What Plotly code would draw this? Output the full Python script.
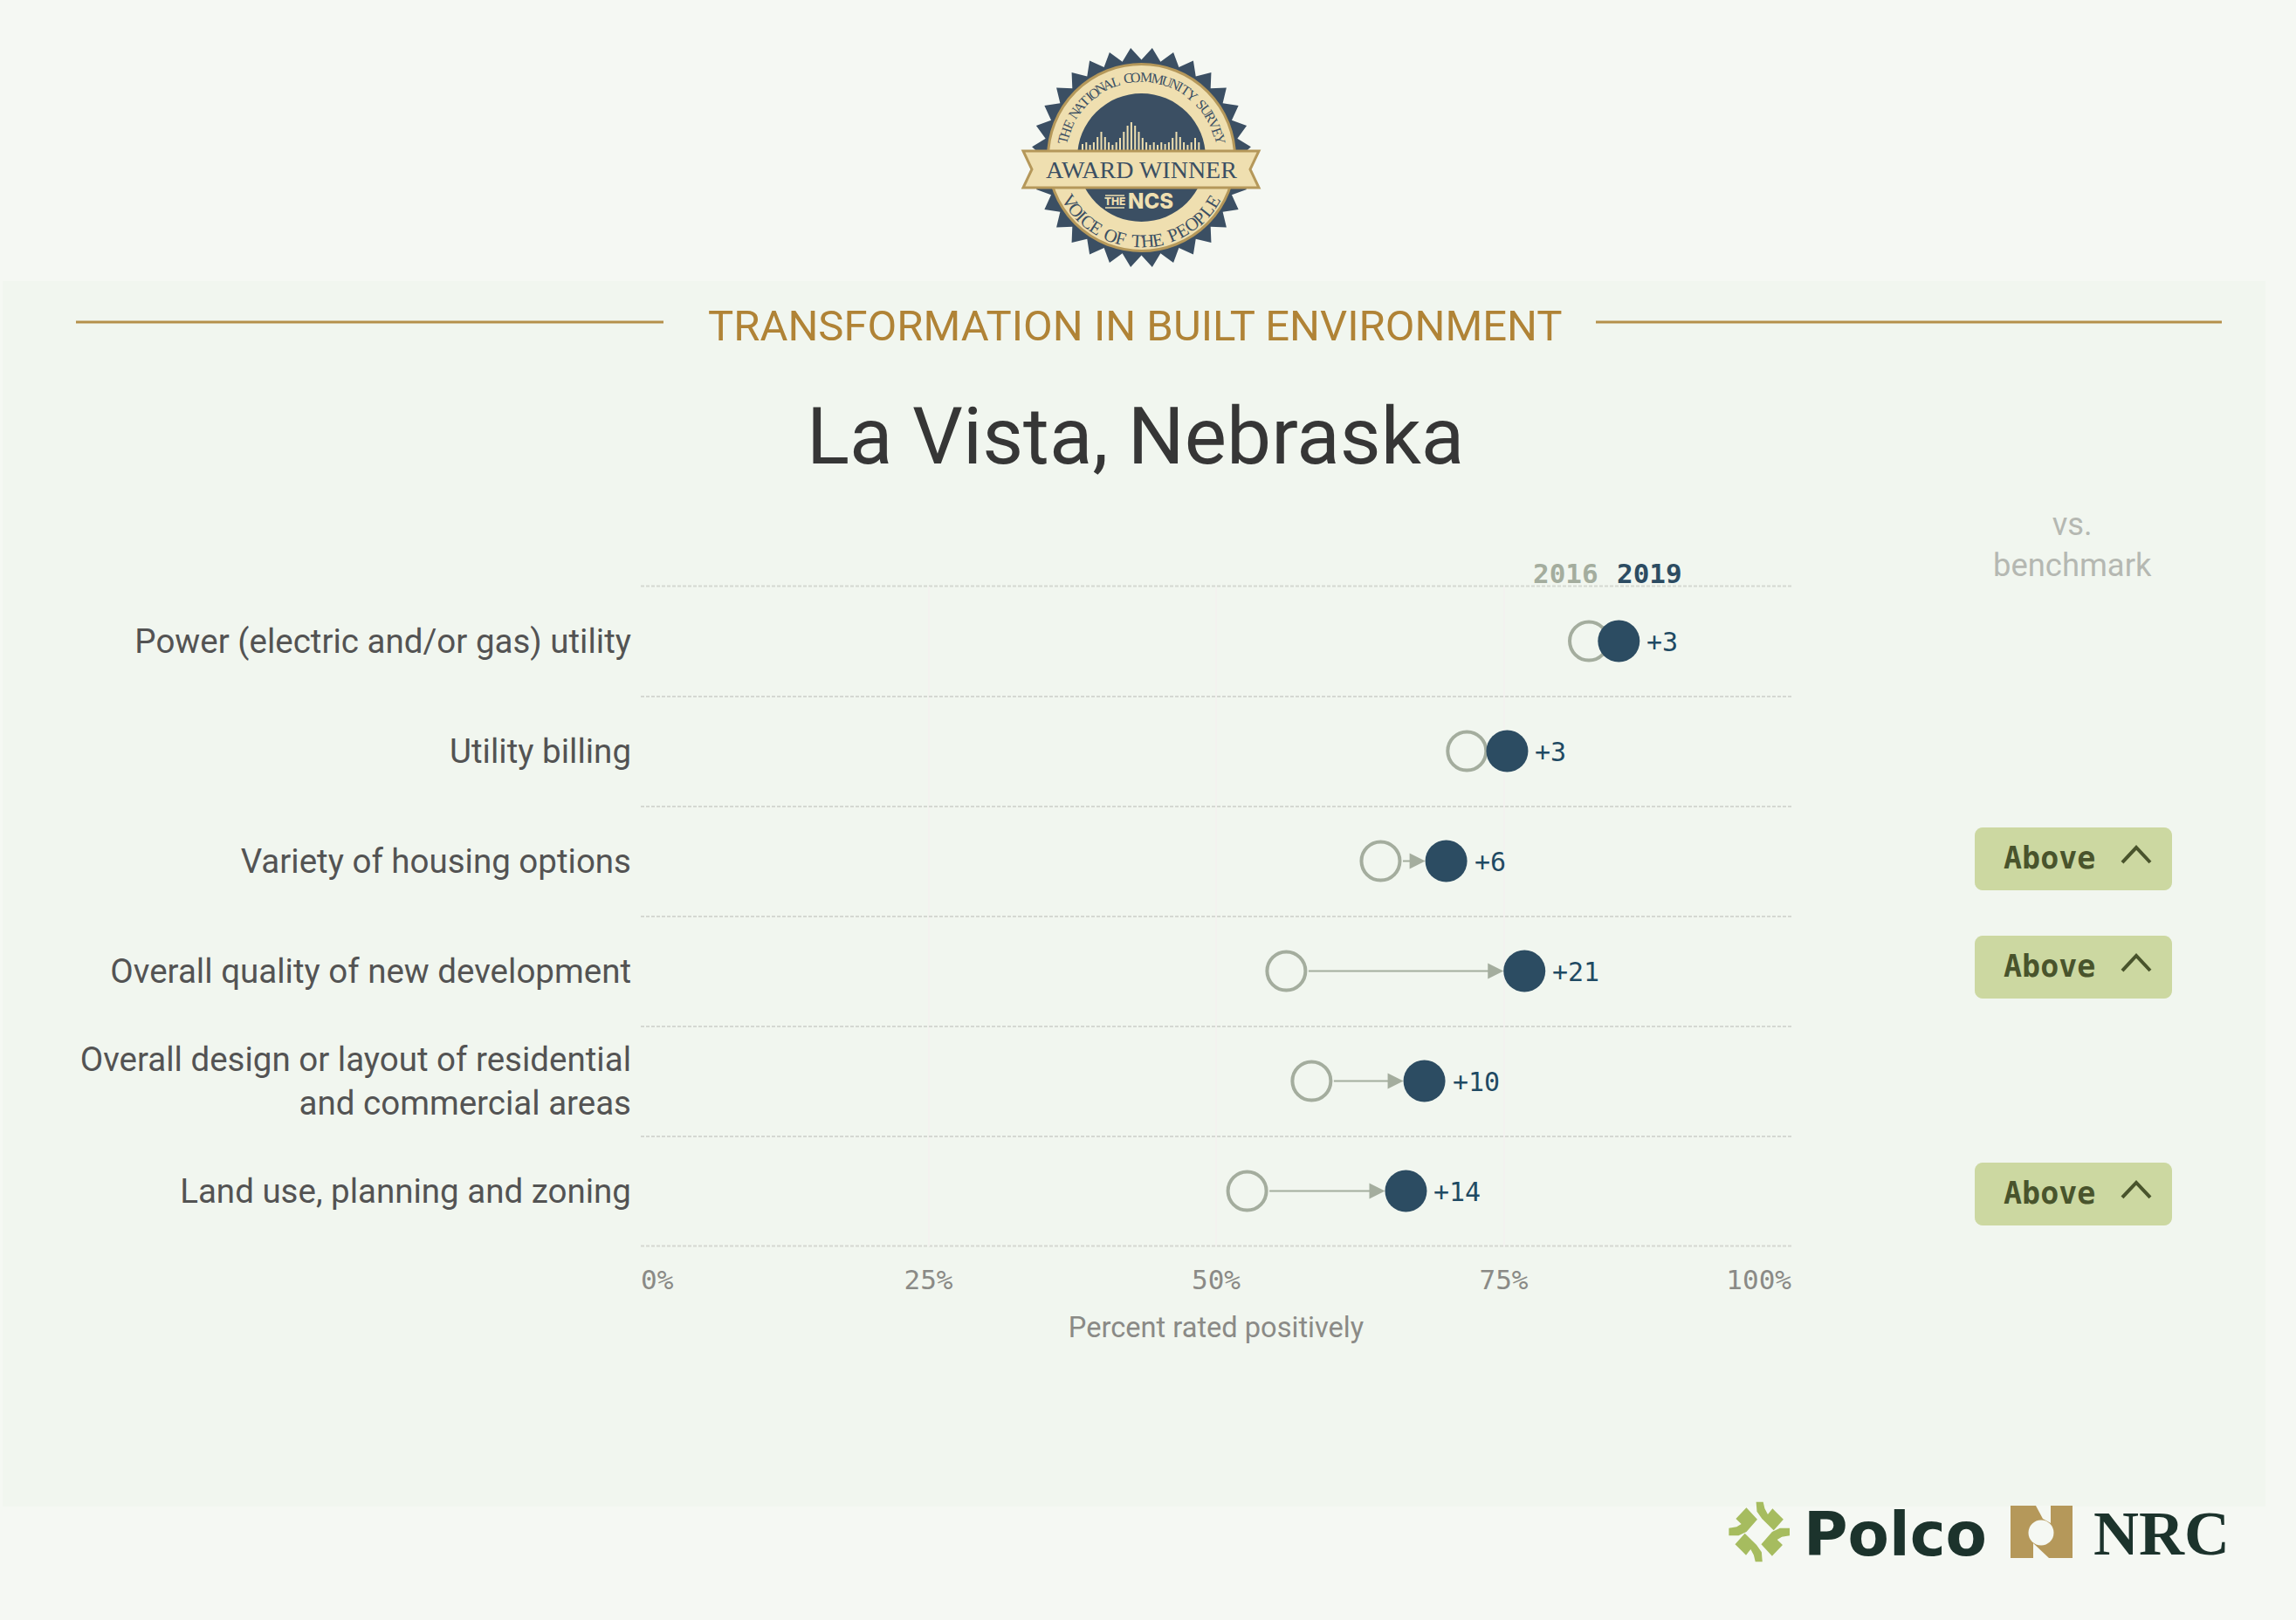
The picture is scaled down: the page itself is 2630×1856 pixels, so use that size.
import math
import plotly.graph_objects as go

W, H = 2630, 1856

# --- data ---
categories = [
    "Power (electric and/or gas) utility",
    "Utility billing",
    "Variety of housing options",
    "Overall quality of new development",
    "Overall design or layout of residential<br>and commercial areas",
    "Land use, planning and zoning",
]
values_2016 = [82.4, 71.8, 64.3, 56.1, 58.3, 52.7]
values_2019 = [85.0, 75.3, 70.0, 76.8, 68.1, 66.5]
delta_labels = ["+3", "+3", "+6", "+21", "+10", "+14"]
benchmark = ["", "", "Above", "Above", "", "Above"]
x_ticks = [0, 25, 50, 75, 100]
# nbsp padding pushes the two outer labels inside the plot, like the original
x_tick_labels = ["\u00a0\u00a00%", "25%", "50%", "75%", "100%\u00a0\u00a0\u00a0\u00a0"]

PAGE = "#f5f8f3"
PANEL = "#f1f6ef"
NAVY = "#2c4c62"
GREY = "#a4ad9e"
GOLD = "#b08336"
BADGE_NAVY = "#3b4f63"
CREAM = "#efdfb0"
BADGE_GOLD = "#b5985a"
DARK_LOGO = "#1c332c"
GREEN_LOGO = "#a6bc5f"
MONO = "DejaVu Sans Mono"
SANS = "Roboto"
SERIF = "Liberation Serif"
PLOT_TOP, PLOT_BOTTOM = 671.5, 1427.5


def X(px):
    return px / W


def Y(py):
    return 1 - py / H


def poly(points, fill, line=None, width=0):
    path = "M" + "L".join(f"{X(a):.5f},{Y(b):.5f}" for a, b in points) + "Z"
    return dict(type="path", path=path, xref="paper", yref="paper", fillcolor=fill,
                line=dict(color=line or fill, width=width), layer="above")


def box(x0, y0, x1, y1, fill, layer="above", line_color=None, line_width=0):
    return dict(type="rect", xref="paper", yref="paper", x0=X(x0), x1=X(x1), y0=Y(y0), y1=Y(y1),
                fillcolor=fill, line=dict(color=line_color or fill, width=line_width), layer=layer)


def circle(cx, cy, r, fill, line_color=None, line_width=0):
    return dict(type="circle", xref="paper", yref="paper", x0=X(cx - r), x1=X(cx + r),
                y0=Y(cy + r), y1=Y(cy - r), fillcolor=fill,
                line=dict(color=line_color or fill, width=line_width), layer="above")


def hline(x0, x1, y, color, width, dash="solid", layer="above"):
    return dict(type="line", xref="paper", yref="paper", x0=X(x0), x1=X(x1), y0=Y(y), y1=Y(y),
                line=dict(color=color, width=width, dash=dash), layer=layer)


def label(x, y, text, size, color, family=SANS, anchor="center", angle=0, weight=None):
    return dict(x=X(x), y=Y(y), xref="paper", yref="paper", text=text, showarrow=False,
                xanchor=anchor, yanchor="middle", textangle=angle,
                font=dict(size=size, color=color, family=family, weight=weight))


def rounded(x0, y0, x1, y1, r, fill):
    pts = []
    for cx, cy, start in [(x1 - r, y0 + r, -90), (x1 - r, y1 - r, 0), (x0 + r, y1 - r, 90), (x0 + r, y0 + r, 180)]:
        for k in range(7):
            a = math.radians(start + k * 15)
            pts.append((cx + r * math.cos(a), cy + r * math.sin(a)))
    return poly(pts, fill)


def char_width(c):
    if c in "I ":
        return 0.5
    if c in "MW":
        return 1.3
    return 0.9


def arc_text(text, cx, cy, r, size, span, bottom=False):
    widths = [char_width(c) for c in text]
    total = sum(widths)
    out = []
    run = 0
    for c, w in zip(text, widths):
        t = math.radians(-span + 2 * span * (run + w / 2) / total)
        run += w
        if c == " ":
            continue
        if bottom:
            out.append(label(cx + r * math.sin(t), cy + r * math.cos(t), c, size, BADGE_NAVY, SERIF, angle=-math.degrees(t)))
        else:
            out.append(label(cx + r * math.sin(t), cy - r * math.cos(t), c, size, BADGE_NAVY, SERIF, angle=math.degrees(t)))
    return out


fig = go.Figure()

# connector arrows only where the two dots do not touch
annotations = []
for cat, a, b in zip(categories, values_2016, values_2019):
    if b - a > 4:
        annotations.append(dict(x=b, y=cat, ax=a, ay=cat, xref="x", yref="y", axref="x", ayref="y",
                                text="", showarrow=True, arrowhead=2, arrowsize=1.8, arrowwidth=2,
                                arrowcolor=GREY, standoff=24, startstandoff=24))

# change labels, annotations because trace text sits a few px too high
for cat, b, d in zip(categories, values_2019, delta_labels):
    annotations.append(dict(x=b, y=cat, xref="x", yref="y", text=d, showarrow=False,
                            xanchor="left", yanchor="middle", xshift=30, yshift=-1,
                            font=dict(family=MONO, size=30, color="#1f4a63")))

fig.add_trace(go.Scatter(x=values_2016, y=categories, mode="markers", name="2016",
                         marker=dict(size=44, color=PANEL, line=dict(color=GREY, width=4))))
fig.add_trace(go.Scatter(x=values_2019, y=categories, mode="markers", name="2019",
                         marker=dict(size=48, color=NAVY)))

shapes = [
    box(3, 322, 2595, 1726, PANEL, layer="below"),
    hline(87, 760, 369, "#b5904b", 3),
    hline(1828, 2545, 369, "#b5904b", 3),
    # category axis has no gridline on its outer boundaries
    hline(734, 2052, PLOT_TOP, "#d5d8d2", 2, "4px,2px", "below"),
    hline(734, 2052, PLOT_BOTTOM, "#d5d8d2", 2, "4px,2px", "below"),
]

# benchmark pills
pill_centres = {2: 984, 3: 1108, 5: 1368}
for i, b in enumerate(benchmark):
    if not b:
        continue
    yc = pill_centres[i]
    shapes.append(rounded(2262, yc - 36, 2488, yc + 36, 9, "#ccd8a1"))
    annotations.append(label(2293, yc - 1, b, 35, "#49542c", MONO, anchor="left", weight=700))
    path = f"M{X(2431):.5f},{Y(yc + 4):.5f}L{X(2447):.5f},{Y(yc - 13):.5f}L{X(2463):.5f},{Y(yc + 4):.5f}"
    shapes.append(dict(type="path", path=path, xref="paper", yref="paper",
                       line=dict(color="#49542c", width=4), layer="above"))

# award seal
cx, cy = 1307.5, 180.5
teeth = 32
star = []
for k in range(teeth * 2):
    a = math.pi * k / teeth
    r = 126 if k % 2 == 1 else 112
    star.append((cx + r * math.sin(a), cy - r * math.cos(a)))
shapes.append(poly(star, BADGE_NAVY))
shapes.append(circle(cx, cy, 107, CREAM, BADGE_GOLD, 3))
shapes.append(circle(cx, cy, 73.5, BADGE_NAVY))
bar_heights = [7, 9, 6, 9, 15, 21, 15, 9, 6, 9, 14, 21, 28, 32, 28, 21, 14, 9, 6, 9, 6, 9, 7, 9, 14, 21, 15, 9, 6, 9, 14, 9]
for k, h in enumerate(bar_heights):
    bx = 1240 + k * 4.3
    shapes.append(box(bx - 1, 172 - h, bx + 1, 173, CREAM))
shapes.append(poly([(1172, 173), (1442, 173), (1432, 194), (1442, 215), (1172, 215), (1182, 194)], CREAM, BADGE_GOLD, 3))
shapes.append(hline(1266, 1288, 224, CREAM, 1.5))
shapes.append(hline(1266, 1288, 238, CREAM, 1.5))
annotations.append(label(1307.5, 194, "AWARD WINNER", 28, BADGE_NAVY, SERIF))
annotations.append(label(1277, 231, "THE", 12, CREAM, "Inter", weight=800))
annotations.append(label(1318, 231, "NCS", 24, CREAM, "Inter", weight=800))
annotations += arc_text("THE NATIONAL COMMUNITY SURVEY", cx, cy, 92, 16, 80)
annotations += arc_text("VOICE OF THE PEOPLE", cx, cy, 96, 21, 62, bottom=True)


# Polco mark, two arm shapes and their point reflections
def polco_pt(a, b):
    return (1900 + a / 2.24, 1700 + b / 3)


arm_a = [polco_pt(*p) for p in [(250, 62), (268, 62), (272, 85), (280, 105), (292, 85), (320, 122), (295, 160), (265, 120), (252, 95)]]
arm_b = [polco_pt(*p) for p in [(225, 82), (253, 122), (225, 165), (205, 178), (180, 178), (180, 152), (200, 148), (212, 138), (198, 120)]]
mx, my = polco_pt(258, 165)
for arm in (arm_a, arm_b):
    shapes.append(poly(arm, GREEN_LOGO))
    shapes.append(poly([(2 * mx - p, 2 * my - q) for p, q in arm], GREEN_LOGO))
annotations.append(label(2064, 1758, "Polco", 69, DARK_LOGO, "DejaVu Sans", anchor="left", weight=700))

# NRC mark
shapes.append(box(2303, 1725, 2374, 1785, BADGE_GOLD))
shapes.append(poly([(2332, 1725), (2349, 1725), (2349, 1745), (2340, 1740)], PAGE))
shapes.append(poly([(2329, 1768), (2347, 1785), (2329, 1785)], PAGE))
shapes.append(circle(2338, 1756, 14.5, PAGE))
annotations.append(label(2396, 1757, "NRC", 72, DARK_LOGO, SERIF, anchor="left", weight=700))

# headings
annotations += [
    label(1300, 374, "TRANSFORMATION IN BUILT ENVIRONMENT", 49, GOLD),
    label(1300, 500, "La Vista, Nebraska", 91, "#363636"),
    label(1754, 657, "2016", 31, GREY, MONO, anchor="left", weight=700),
    label(1850, 657, "2019", 31, NAVY, MONO, anchor="left", weight=700),
    label(2374, 624, "vs.<br>benchmark", 36.4, "#b5b8b2"),
]

fig.update_layout(
    width=W,
    height=H,
    autosize=False,
    margin=dict(l=0, r=0, t=0, b=0, autoexpand=False),
    paper_bgcolor=PAGE,
    plot_bgcolor="rgba(0,0,0,0)",
    showlegend=False,
    shapes=shapes,
    annotations=annotations,
    xaxis=dict(
        domain=[734 / W, 2052 / W],
        range=[0, 100],
        tickvals=x_ticks,
        ticktext=x_tick_labels,
        tickfont=dict(family=MONO, size=31, color="#8a8a86"),
        ticks="outside",
        ticklen=11,
        tickcolor="rgba(0,0,0,0)",
        showgrid=True,
        gridcolor="#f3f2ef",
        gridwidth=2,
        zeroline=False,
        showline=False,
        automargin=False,
        title=dict(text="Percent rated positively", standoff=26,
                   font=dict(family=SANS, size=32.6, color="#8a8a86")),
    ),
    yaxis=dict(
        domain=[1 - PLOT_BOTTOM / H, 1 - PLOT_TOP / H],
        type="category",
        categoryorder="array",
        categoryarray=categories,
        range=[5.5, -0.5],
        tickson="boundaries",
        tickfont=dict(family=SANS, size=38.5, color="#535353"),
        ticks="",
        ticklabelstandoff=10,
        showgrid=True,
        gridcolor="#d5d8d2",
        gridwidth=2,
        griddash="4px,2px",
        zeroline=False,
        showline=False,
        automargin=False,
    ),
)

# the default page body has an 8px margin, the original sits flush with the window
fig.write_html("out.html", config={"displayModeBar": False},
               post_script="document.body.style.margin='0';document.documentElement.style.overflow='hidden';")
